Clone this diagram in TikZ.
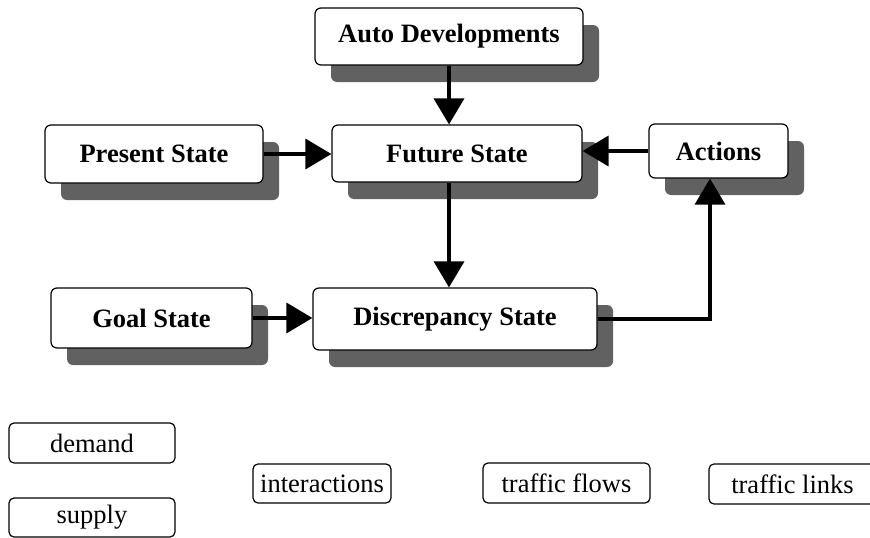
\documentclass[tikz,border=0pt]{standalone}
\usepackage{fontspec}
\setmainfont{Liberation Serif}
\usetikzlibrary{shadows,arrows.meta}
\tikzset{
  mainbox/.style={draw, line width=1.2pt, rounded corners=6pt, fill=white,
    font=\fontsize{26.5}{30}\selectfont\bfseries, inner sep=0pt,
    drop shadow={shadow xshift=16pt, shadow yshift=-17pt, fill=black!62, opacity=1}},
  tagbox/.style={draw, line width=1.2pt, rounded corners=5pt, fill=white,
    font=\fontsize{26.5}{30}\selectfont, inner sep=0pt},
  flow/.style={line width=3.5pt, -{Triangle[length=26pt,width=30pt]}}
}
\begin{document}
\begin{tikzpicture}[x=1pt,y=-1pt]
\useasboundingbox (0,0) rectangle (870,538);
\clip (0,0) rectangle (870,538);

% main state boxes
\node[mainbox, minimum width=268pt, minimum height=57pt] (auto) at (449,36.5) {Auto Developments};
\node[mainbox, minimum width=218pt, minimum height=58pt] (pres) at (154,154) {Present State};
\node[mainbox, minimum width=250pt, minimum height=57pt] (fut) at (457,153.5) {Future State};
\node[mainbox, minimum width=139pt, minimum height=54pt] (act) at (718.5,151) {Actions};
\node[mainbox, minimum width=201pt, minimum height=60pt] (goal) at (151.5,318) {Goal State};
\node[mainbox, minimum width=284pt, minimum height=62pt] (disc) at (455,319) {Discrepancy State};

% legend boxes
\node[tagbox, minimum width=166pt, minimum height=40pt] (dem) at (92,443) {demand};
\node[tagbox, minimum width=166pt, minimum height=39pt] (sup) at (92,517.5) {supply};
\node[tagbox, minimum width=138pt, minimum height=39pt] (inter) at (322,483.5) {interactions};
\node[tagbox, minimum width=167pt, minimum height=40pt] (flows) at (566.5,483) {traffic flows};
\node[tagbox, minimum width=167pt, minimum height=40pt] (links) at (792.5,484) {traffic links};

% connectors
\draw[flow] (auto.south) -- (auto.south |- fut.north);
\draw[flow] (pres.east) -- (pres.east -| fut.west);
\draw[flow] (act.west) -- (act.west -| fut.east);
\draw[flow] (fut.south -| auto.south) -- (auto.south |- disc.north);
\draw[flow] (goal.east) -- (goal.east -| disc.west);
\coordinate (bend) at (710,319);
\draw[flow] (disc.east) -- (bend) -- (bend |- act.south);
\end{tikzpicture}
\end{document}
